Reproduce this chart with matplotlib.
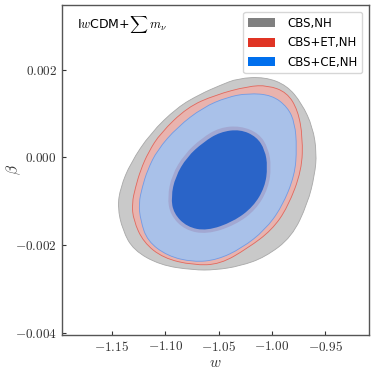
import numpy as np
import matplotlib
matplotlib.use('Agg')
import matplotlib.pyplot as plt
from matplotlib.path import Path
from matplotlib.patches import PathPatch, Patch
from matplotlib.ticker import FixedLocator, FuncFormatter

plt.rcParams['mathtext.fontset'] = 'cm'

# contour boundaries (w, beta)
gray95_w = [-1.0486, -1.0318, -1.0066, -0.9861, -0.9721, -0.9618, -0.9581, -0.9600,
            -0.9665, -0.9814, -1.0066, -1.0299, -1.0533, -1.0738, -1.1046, -1.1298,
            -1.1400, -1.1447, -1.1419, -1.1326, -1.1139, -1.0887, -1.0673]
gray95_b = [0.00164, 0.00180, 0.00183, 0.00164, 0.00123, 0.00069, 0.00010, -0.00040,
            -0.00104, -0.00181, -0.00227, -0.00247, -0.00256, -0.00256, -0.00245, -0.00211,
            -0.00165, -0.00113, -0.00068, -0.00013, 0.00055, 0.00114, 0.00144]

red95_w = [-1.0225, -1.0038, -0.9861, -0.9758, -0.9712, -0.9721, -0.9852, -1.0001,
           -1.0225, -1.0486, -1.0738, -1.1018, -1.1204, -1.1298, -1.1312, -1.1279,
           -1.1232, -1.1158, -1.1046, -1.0794, -1.0533]
red95_b = [0.00162, 0.00164, 0.00148, 0.00108, 0.00046, -0.00029, -0.00113, -0.00165,
           -0.00206, -0.00243, -0.00245, -0.00229, -0.00193, -0.00143, -0.00104, -0.00068,
           -0.00029, 0.00012, 0.00055, 0.00114, 0.00142]

blue95_w = [-1.0225, -1.0001, -0.9852, -0.9786, -0.9768, -0.9786, -0.9908, -1.0066,
            -1.0281, -1.0514, -1.0738, -1.0980, -1.1167, -1.1232, -1.1248, -1.1216,
            -1.1167, -1.1074, -1.0887, -1.0645, -1.0421]
blue95_b = [0.00146, 0.00142, 0.00114, 0.00078, 0.00023, -0.00040, -0.00113, -0.00165,
            -0.00206, -0.00233, -0.00238, -0.00224, -0.00190, -0.00143, -0.00104, -0.00068,
            -0.00029, 0.00017, 0.00069, 0.00114, 0.00137]

red68_w = [-1.0299, -1.0122, -1.0034, -1.0006, -1.0034, -1.0150, -1.0346, -1.0610,
           -1.0817, -1.0952, -1.0980, -1.0938, -1.0822, -1.0659, -1.0491]
red68_b = [0.00072, 0.00055, 0.00021, -0.00021, -0.00070, -0.00119, -0.00154, -0.00175,
           -0.00165, -0.00131, -0.00090, -0.00040, 0.00007, 0.00044, 0.00068]

blue68_w = [-1.0299, -1.0144, -1.0066, -1.0041, -1.0066, -1.0175, -1.0362, -1.0610,
            -1.0797, -1.0922, -1.0946, -1.0906, -1.0797, -1.0642, -1.0486]
blue68_b = [0.00064, 0.00047, 0.00017, -0.00021, -0.00067, -0.00112, -0.00146, -0.00167,
            -0.00158, -0.00127, -0.00090, -0.00044, 0.00001, 0.00035, 0.00058]

labels = ['CBS,NH', 'CBS+ET,NH', 'CBS+CE,NH']
label_colors = ['#808080', '#e03424', '#006FED']

w_ticks = [-1.15, -1.10, -1.05, -1.00, -0.95]
b_ticks = [-0.004, -0.002, 0.000, 0.002]


def smooth_patch(ws, bs, **kw):
    # closed quadratic spline: points are control points, midpoints on the curve
    pts = np.column_stack([ws, bs])
    mids = (pts + np.roll(pts, -1, axis=0)) / 2
    verts = [mids[-1]]
    codes = [Path.MOVETO]
    for p, m in zip(pts, mids):
        verts += [p, m]
        codes += [Path.CURVE3, Path.CURVE3]
    return PathPatch(Path(verts, codes), **kw)


fig = plt.figure(figsize=(3.74, 3.74), dpi=100)
ax = fig.add_axes([0.165, 0.104, 0.822, 0.883])

ax.add_patch(smooth_patch(gray95_w, gray95_b, facecolor='#c9c9c9', edgecolor='#a8a8a8', lw=0.6))
ax.add_patch(smooth_patch(red95_w, red95_b, facecolor='#e9b3ae', edgecolor='#e2675c', lw=0.6))
ax.add_patch(smooth_patch(blue95_w, blue95_b, facecolor='#a9c1e9', edgecolor='#6f9be6', lw=0.6))
ax.add_patch(smooth_patch(red68_w, red68_b, facecolor='#a2a8d2', edgecolor='none'))
ax.add_patch(smooth_patch(blue68_w, blue68_b, facecolor='#2a64c8', edgecolor='none'))

ax.set_xlim(-1.197, -0.909)
ax.set_ylim(-0.00404, 0.00347)
ax.xaxis.set_major_locator(FixedLocator(w_ticks))
ax.yaxis.set_major_locator(FixedLocator(b_ticks))
ax.xaxis.set_major_formatter(FuncFormatter(lambda v, p: r'$%.2f$' % v))
ax.yaxis.set_major_formatter(FuncFormatter(lambda v, p: r'$%.3f$' % v))
ax.tick_params(direction='in', length=3, width=0.8, labelsize=9.5, colors='#333333')
for s in ax.spines.values():
    s.set_color('#555555')
    s.set_linewidth(1.0)

ax.set_xlabel(r'$w$', fontsize=11, color='#333333', va='center')
ax.set_ylabel(r'$\beta$', fontsize=11, color='#333333', va='center', ha='center')
ax.xaxis.set_label_coords(0.5, -0.084)
ax.yaxis.set_label_coords(-0.155, 0.5)

ax.text(0.05, 0.94, r'I$w$CDM+$\sum\, m_{\nu}$', transform=ax.transAxes,
        fontsize=9, va='center', ha='left')

handles = [Patch(facecolor=c, edgecolor='none') for c in label_colors]
ax.legend(handles, labels, loc='upper right', fontsize=8.5, handlelength=2.3,
          handleheight=0.8, labelspacing=0.55, borderaxespad=0.6, handletextpad=1.0)

fig.savefig('out.png', dpi=100)
